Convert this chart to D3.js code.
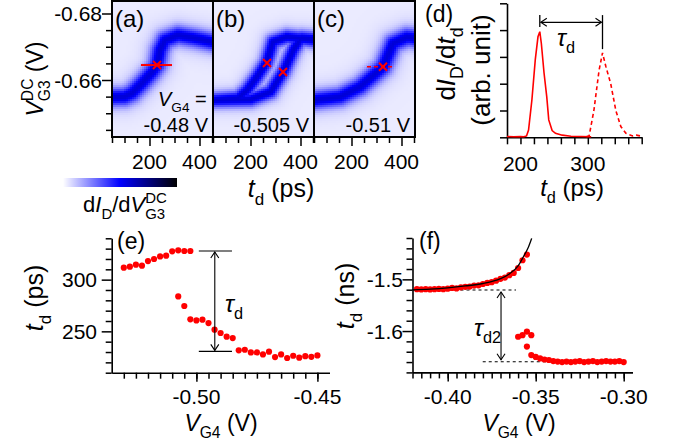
<!DOCTYPE html>
<html>
<head>
<meta charset="utf-8">
<script src="https://cdn.jsdelivr.net/npm/d3@7"></script>
<style>
  body { margin: 0; background: #fff; }
  svg { display: block; font-family: "Liberation Sans", Arial, sans-serif; }
  text { white-space: pre; }
</style>
</head>
<body>
<svg id="fig" width="678" height="445"></svg>
<script>
(function() {
  // ---- ridge of the dI/dV band (a)-(c): t_d (ps) vs V_G3 (V)
  var ridgeA_td = [50, 100, 130, 170, 210, 230, 242, 262, 314, 382, 455];
  var ridgeA_v = [-0.6549, -0.655, -0.6561, -0.6591, -0.6624, -0.6645, -0.669, -0.672, -0.6735, -0.6726, -0.6714];
  var ridgeB1_td = [50, 150, 186, 226, 264, 290, 346, 455];
  var ridgeB1_v = [-0.654, -0.6546, -0.657, -0.661, -0.6653, -0.6715, -0.673, -0.672];
  var ridgeB2_td = [50, 200, 280, 332, 372, 404, 455];
  var ridgeB2_v = [-0.654, -0.6542, -0.6565, -0.6626, -0.6692, -0.6727, -0.6723];
  var ridgeC_td = [50, 154, 234, 302, 326, 366, 422, 455];
  var ridgeC_v = [-0.654, -0.655, -0.658, -0.6624, -0.664, -0.671, -0.6729, -0.6726];

  var crossA = [[230, -0.6645]];
  var crossB = [[266, -0.6651], [330, -0.6624]];
  var crossC = [[326, -0.664]];
  var lineA = [166, 290];
  var lineC = [262, 374];
  var vG4Labels = ['-0.48 V', '-0.505 V', '-0.51 V'];

  // ---- panel (d): dI_D/dt_d traces
  var dSolidTd = [180, 190, 200, 205, 209, 212, 217, 222, 226, 228.7, 231, 235, 239, 242, 247, 252, 262, 275, 290, 305];
  var dSolidVal = [0.03, 0.02, 0.03, 0.02, 0.05, 0.27, 1.4, 2.9, 3.75, 3.94, 3.5, 2.4, 1.52, 0.65, 0.25, 0.15, 0.08, 0.04, 0.03, 0.02];
  var dDashTd = [298, 302, 309, 316.7, 321.8, 326.7, 334, 341.6, 349, 356.6, 366.5, 372, 380];
  var dDashVal = [0.02, 0.06, 1.0, 2.5, 3.15, 2.65, 2.0, 1.0, 0.4, 0.15, 0.05, 0.08, 0.04];

  // ---- panel (e): t_d (ps) vs V_G4 (V)
  var eUpperV = [-0.53, -0.5275, -0.525, -0.5225, -0.52, -0.5175, -0.515, -0.5125, -0.51, -0.5075, -0.505, -0.5025];
  var eUpperTd = [311.6, 312.6, 314.5, 313.5, 318.0, 320.0, 322.5, 323.2, 327.4, 328.4, 327.7, 327.7];
  var eLowerV = [-0.5075, -0.505, -0.5025, -0.5, -0.4975, -0.495, -0.4925, -0.49, -0.4875, -0.485, -0.4825, -0.48,
    -0.4775, -0.475, -0.4725, -0.47, -0.4675, -0.465, -0.4625, -0.46, -0.4575, -0.455, -0.4525, -0.45];
  var eLowerTd = [283.8, 274.5, 261.6, 260.6, 261.3, 258.0, 251.6, 248.4, 244.8, 243.5, 231.6, 232.2,
    229.6, 229.6, 227.7, 230.3, 225.1, 227.7, 224.2, 226.4, 224.5, 226.0, 225.4, 226.7];

  // ---- panel (f): t_d (ns) vs V_G4 (V)
  var fUpperV = [-0.4175, -0.415, -0.4125, -0.41, -0.4075, -0.405, -0.4025, -0.40, -0.3975, -0.395, -0.3925, -0.39, -0.3875,
    -0.385, -0.3825, -0.38, -0.3775, -0.375, -0.3725, -0.37, -0.3675, -0.365, -0.3625, -0.36, -0.3575, -0.355];
  var fUpperTd = [-1.519, -1.5195, -1.519, -1.5195, -1.519, -1.5185, -1.519, -1.518, -1.5165, -1.5175, -1.5155, -1.5145, -1.514,
    -1.512, -1.5115, -1.509, -1.507, -1.5055, -1.5025, -1.499, -1.4965, -1.492, -1.4875, -1.478, -1.463, -1.452];
  var fLowerV = [-0.36, -0.3575, -0.355, -0.3525, -0.355, -0.3525, -0.35, -0.3475, -0.345, -0.3425, -0.34, -0.3375,
    -0.335, -0.3325, -0.33, -0.3275, -0.325, -0.3225, -0.32, -0.3175, -0.315, -0.3125, -0.31, -0.3075, -0.305, -0.3025, -0.30];
  var fLowerTd = [-1.611, -1.608, -1.601, -1.608, -1.630, -1.6465, -1.650, -1.653, -1.655, -1.656, -1.658, -1.659,
    -1.660, -1.659, -1.660, -1.659, -1.658, -1.660, -1.659, -1.658, -1.660, -1.659, -1.658, -1.659, -1.659, -1.658, -1.660];
  var fFitV = [-0.42, -0.41, -0.40, -0.39, -0.38, -0.37, -0.365, -0.36, -0.357, -0.3545, -0.3523];
  var fFitTd = [-1.5205, -1.519, -1.5165, -1.5128, -1.508, -1.4985, -1.4895, -1.474, -1.4563, -1.4405, -1.4207];
  var fUpperLevel = -1.5207, fLowerLevel = -1.6594;

  var RED = '#ff0000';
  var svg = d3.select('#fig');
  var color = d3.scaleLinear().domain([0, 0.5, 1]).range(['#ffffff', '#0000ff', '#000000']);

  // rich text: parts = [{t, i, sub, sup, back}]
  function rich(parent, x, y, parts, size, anchor, rotate) {
    var text = parent.append('text').attr('font-size', size).attr('fill', '#000')
      .attr('text-anchor', anchor || 'start');
    if (rotate) {
      text.attr('transform', 'translate(' + x + ',' + y + ') rotate(-90)');
    } else {
      text.attr('x', x).attr('y', y);
    }
    var shift = 0, prev = null;
    parts.forEach(function(p) {
      var fs = size, target = 0;
      if (p.sub) { fs = size * 0.68; target = 0.3 * size; }
      if (p.sup) { fs = size * 0.68; target = -0.42 * size; }
      var ts = text.append('tspan').text(p.t).attr('font-size', fs);
      if (p.i) ts.attr('font-style', 'italic');
      if (target !== shift) ts.attr('dy', target - shift);
      if (p.back && prev) ts.attr('dx', -prev.node().getComputedTextLength());
      shift = target;
      prev = ts;
    });
    return text;
  }

  function axisTicks(parent, orient, scale, values, size, pos) {
    var gen = (orient === 'left' ? d3.axisLeft(scale) : d3.axisBottom(scale))
      .tickValues(values).tickSize(size).tickSizeOuter(0).tickFormat('');
    var g = parent.append('g')
      .attr('transform', orient === 'left' ? 'translate(' + pos + ',0)' : 'translate(0,' + pos + ')')
      .call(gen);
    g.selectAll('line').attr('stroke', '#000').attr('stroke-width', 1.5);
    g.select('.domain').attr('stroke', '#000').attr('stroke-width', 1.6);
    return g;
  }

  function steps(a, b, s) {
    var n = Math.round((b - a) / s), out = [], i;
    for (i = 0; i <= n; i++) out.push(+(a + i * s).toFixed(4));
    return out;
  }

  function segDist(px, py, a, b) {
    var dx = b[0] - a[0], dy = b[1] - a[1];
    var t = ((px - a[0]) * dx + (py - a[1]) * dy) / (dx * dx + dy * dy);
    t = Math.max(0, Math.min(1, t));
    var ex = a[0] + t * dx - px, ey = a[1] + t * dy - py;
    return Math.sqrt(ex * ex + ey * ey);
  }

  // ================= panels (a)-(c)
  var yTop = d3.scaleLinear().domain([-0.68, -0.66]).range([13.5, 80]);
  var topY0 = 1, topY1 = 137;
  var vMin = yTop.invert(topY0), vMax = yTop.invert(topY1);
  var topPanels = [
    { x0: 112, x1: 213, ridges: [[ridgeA_td, ridgeA_v]], sigma: 6.2, label: '(a)' },
    { x0: 213, x1: 314, ridges: [[ridgeB1_td, ridgeB1_v], [ridgeB2_td, ridgeB2_v]], sigma: 5.0, label: '(b)' },
    { x0: 314, x1: 415, ridges: [[ridgeC_td, ridgeC_v]], sigma: 6.2, label: '(c)' }
  ];
  var defs = svg.append('defs');

  topPanels.forEach(function(p, k) {
    var xs = d3.scaleLinear().domain([50, 454]).range([p.x0, p.x1]);
    var g = svg.append('g');
    defs.append('clipPath').attr('id', 'clip' + k).append('rect')
      .attr('x', p.x0).attr('y', topY0).attr('width', p.x1 - p.x0).attr('height', topY1 - topY0);
    var pix = p.ridges.map(function(r) {
      return r[0].map(function(t, i) { return [xs(t), yTop(r[1][i])]; });
    });
    var cells = [];
    var dt = 8, dv = 0.0006;
    d3.range(50, 454, dt).forEach(function(t) {
      d3.range(vMin, vMax, dv).forEach(function(v) {
        var px = xs(t + dt / 2), py = yTop(v + dv / 2), core = 0, halo = 0;
        pix.forEach(function(pts) {
          var d = Infinity, i;
          for (i = 0; i < pts.length - 1; i++) d = Math.min(d, segDist(px, py, pts[i], pts[i + 1]));
          core = Math.max(core, Math.exp(-d * d / (2 * p.sigma * p.sigma)));
          halo = Math.max(halo, Math.exp(-d * d / (2 * 4 * p.sigma * p.sigma)));
        });
        cells.push({ t: t, v: v, val: 0.04 + 0.46 * core + 0.08 * halo });
      });
    });
    g.append('g').attr('clip-path', 'url(#clip' + k + ')').selectAll('rect').data(cells).enter().append('rect')
      .attr('x', function(d) { return xs(d.t); })
      .attr('y', function(d) { return yTop(d.v); })
      .attr('width', xs(50 + dt) - xs(50) + 0.4)
      .attr('height', yTop(vMin + dv) - yTop(vMin) + 0.4)
      .attr('fill', function(d) { return color(d.val); })
      .attr('shape-rendering', 'crispEdges');

    // red marks
    if (k === 0) {
      g.append('line').attr('x1', xs(lineA[0])).attr('x2', xs(lineA[1]))
        .attr('y1', yTop(crossA[0][1])).attr('y2', yTop(crossA[0][1]))
        .attr('stroke', RED).attr('stroke-width', 2);
    }
    if (k === 2) {
      g.append('line').attr('x1', xs(lineC[0])).attr('x2', xs(lineC[1]))
        .attr('y1', yTop(crossC[0][1])).attr('y2', yTop(crossC[0][1]))
        .attr('stroke', RED).attr('stroke-width', 1.6).attr('stroke-dasharray', '4,3');
    }
    var crosses = [crossA, crossB, crossC][k];
    g.selectAll('path.cross').data(crosses).enter().append('path')
      .attr('transform', function(d) { return 'translate(' + xs(d[0]) + ',' + yTop(d[1]) + ')'; })
      .attr('d', 'M-4,-4L4,4M-4,4L4,-4').attr('stroke', RED).attr('stroke-width', 2).attr('fill', 'none');

    g.append('rect').attr('x', p.x0).attr('y', topY0).attr('width', p.x1 - p.x0).attr('height', topY1 - topY0)
      .attr('fill', 'none').attr('stroke', '#000').attr('stroke-width', 2);

    var bt = axisTicks(g, 'bottom', xs, [50, 100, 150, 250, 300, 350, 450], 6, topY1);
    bt.select('.domain').remove();
    var bm = axisTicks(g, 'bottom', xs, [200, 400], 9, topY1);
    bm.select('.domain').remove();
    g.selectAll('text.xt').data([200, 400]).enter().append('text')
      .attr('x', function(d) { return xs(d); }).attr('y', 169)
      .attr('text-anchor', 'middle').attr('font-size', 21).text(function(d) { return d; });

    g.append('text').attr('x', p.x0 + 3).attr('y', 27).attr('font-size', 24).text(p.label);
    g.append('text').attr('x', p.x1 - 5).attr('y', 132).attr('text-anchor', 'end')
      .attr('font-size', 20).text(vG4Labels[k]);
  });

  var ga = svg.append('g');
  axisTicks(ga, 'left', yTop, [-0.675, -0.67, -0.665, -0.655, -0.65, -0.645], 6, 112).select('.domain').remove();
  axisTicks(ga, 'left', yTop, [-0.68, -0.66], 10, 112).select('.domain').remove();
  ga.selectAll('text.yt').data([-0.68, -0.66]).enter().append('text')
    .attr('x', 102).attr('y', function(d) { return yTop(d); }).attr('dy', '0.36em')
    .attr('text-anchor', 'end').attr('font-size', 21).text(function(d) { return d.toFixed(2); });
  rich(ga, 158, 106, [{ t: 'V', i: true }, { t: 'G4', sub: true }, { t: ' =' }], 20);
  rich(ga, 43, 79, [{ t: 'V', i: true }, { t: 'G3', sub: true }, { t: 'DC', sup: true, back: true }, { t: ' (V)' }], 23, 'middle', true);
  rich(ga, 281, 197, [{ t: 't', i: true }, { t: 'd', sub: true }, { t: ' (ps)' }], 25, 'middle');

  // colour bar
  var grad = defs.append('linearGradient').attr('id', 'cbar');
  [[0, '#ffffff'], [0.5, '#0000ff'], [1, '#000000']].forEach(function(s) {
    grad.append('stop').attr('offset', s[0]).attr('stop-color', s[1]);
  });
  ga.append('rect').attr('x', 63).attr('y', 178).attr('width', 114).attr('height', 9).attr('fill', 'url(#cbar)');
  rich(ga, 83, 212, [{ t: 'd' }, { t: 'I', i: true }, { t: 'D', sub: true }, { t: '/d' }, { t: 'V', i: true },
    { t: 'G3', sub: true }, { t: 'DC', sup: true, back: true }], 22);

  // ================= panel (d)
  var gd = svg.append('g');
  var xd = d3.scaleLinear().domain([180, 380]).range([507, 641.7]);
  var yd = d3.scaleLinear().domain([0, 5]).range([137.3, 3.3]);
  axisTicks(gd, 'left', yd, [0, 1, 2, 3, 4, 5], 7, 507);
  axisTicks(gd, 'bottom', xd, steps(180, 380, 20), 7, 137.3);
  gd.selectAll('text.xt').data([200, 300]).enter().append('text')
    .attr('x', function(d) { return xd(d); }).attr('y', 171)
    .attr('text-anchor', 'middle').attr('font-size', 21).text(function(d) { return d; });
  var lineD = d3.line().x(function(d) { return xd(d[0]); }).y(function(d) { return yd(d[1]); });
  gd.append('path').datum(d3.zip(dSolidTd, dSolidVal)).attr('d', lineD)
    .attr('fill', 'none').attr('stroke', RED).attr('stroke-width', 1.6);
  gd.append('path').datum(d3.zip(dDashTd, dDashVal)).attr('d', lineD)
    .attr('fill', 'none').attr('stroke', RED).attr('stroke-width', 1.6).attr('stroke-dasharray', '4,3');
  // tau_d bracket
  var pkA = 228.7, pkB = 321.8;
  gd.append('line').attr('x1', xd(pkA)).attr('x2', xd(pkA)).attr('y1', yd(4.56)).attr('y2', yd(4.12))
    .attr('stroke', '#000').attr('stroke-width', 1.3);
  gd.append('line').attr('x1', xd(pkB)).attr('x2', xd(pkB)).attr('y1', yd(4.56)).attr('y2', yd(3.29))
    .attr('stroke', '#000').attr('stroke-width', 1.3);
  gd.append('line').attr('x1', xd(pkA) + 1).attr('x2', xd(pkB) - 1).attr('y1', yd(4.29)).attr('y2', yd(4.29))
    .attr('stroke', '#000').attr('stroke-width', 1.1);
  gd.append('path').attr('d', 'M' + (xd(pkA) + 7) + ',' + (yd(4.29) - 4) + 'L' + (xd(pkA) + 1) + ',' + yd(4.29) +
    'L' + (xd(pkA) + 7) + ',' + (yd(4.29) + 4))
    .attr('fill', 'none').attr('stroke', '#000').attr('stroke-width', 1.1);
  gd.append('path').attr('d', 'M' + (xd(pkB) - 7) + ',' + (yd(4.29) - 4) + 'L' + (xd(pkB) - 1) + ',' + yd(4.29) +
    'L' + (xd(pkB) - 7) + ',' + (yd(4.29) + 4))
    .attr('fill', 'none').attr('stroke', '#000').attr('stroke-width', 1.1);
  rich(gd, 557, 46, [{ t: '\u03c4', i: true }, { t: 'd', sub: true }], 24);
  gd.append('text').attr('x', 425).attr('y', 22).attr('font-size', 23).text('(d)');
  rich(gd, 455, 64, [{ t: 'd' }, { t: 'I', i: true }, { t: 'D', sub: true }, { t: '/d' }, { t: 't', i: true }, { t: 'd', sub: true }], 26, 'middle', true);
  gd.append('text').attr('transform', 'translate(490,70) rotate(-90)').attr('text-anchor', 'middle')
    .attr('font-size', 26).text('(arb. unit)');
  rich(gd, 572, 196, [{ t: 't', i: true }, { t: 'd', sub: true }, { t: ' (ps)' }], 24, 'middle');

  // ================= panel (e)
  var ge = svg.append('g');
  var xe = d3.scaleLinear().domain([-0.535, -0.445]).range([111.7, 329.5]);
  var ye = d3.scaleLinear().domain([210, 340]).range([372.7, 238.3]);
  axisTicks(ge, 'left', ye, steps(210, 340, 10).filter(function(v) { return v !== 250 && v !== 300; }), 6, 111.7);
  axisTicks(ge, 'left', ye, [250, 300], 10, 111.7).select('.domain').remove();
  axisTicks(ge, 'bottom', xe, steps(-0.53, -0.45, 0.005), 6, 372.7);
  axisTicks(ge, 'bottom', xe, [-0.5, -0.45], 9, 372.7).select('.domain').remove();
  ge.selectAll('text.yt').data([250, 300]).enter().append('text')
    .attr('x', 97).attr('y', function(d) { return ye(d); }).attr('dy', '0.36em')
    .attr('text-anchor', 'end').attr('font-size', 21).text(function(d) { return d; });
  ge.selectAll('text.xt').data([-0.5, -0.45]).enter().append('text')
    .attr('x', function(d) { return xe(d); }).attr('y', 404)
    .attr('text-anchor', 'middle').attr('font-size', 21).text(function(d) { return d.toFixed(2); });
  ge.selectAll('circle.up').data(d3.zip(eUpperV, eUpperTd)).enter().append('circle')
    .attr('cx', function(d) { return xe(d[0]); }).attr('cy', function(d) { return ye(d[1]); })
    .attr('r', 3.1).attr('fill', RED);
  ge.selectAll('circle.lo').data(d3.zip(eLowerV, eLowerTd)).enter().append('circle')
    .attr('cx', function(d) { return xe(d[0]); }).attr('cy', function(d) { return ye(d[1]); })
    .attr('r', 3.1).attr('fill', RED);
  var eTop = 327.7, eBot = 230.6, eArrowV = -0.4924;
  [eTop, eBot].forEach(function(t) {
    ge.append('line').attr('x1', xe(-0.499)).attr('x2', xe(-0.4853)).attr('y1', ye(t)).attr('y2', ye(t))
      .attr('stroke', '#000').attr('stroke-width', 1.2);
  });
  ge.append('line').attr('x1', xe(eArrowV)).attr('x2', xe(eArrowV)).attr('y1', ye(eTop) + 1).attr('y2', ye(eBot) - 1)
    .attr('stroke', '#000').attr('stroke-width', 1.1);
  ge.append('path').attr('d', 'M' + (xe(eArrowV) - 4) + ',' + (ye(eTop) + 7) + 'L' + xe(eArrowV) + ',' + (ye(eTop) + 1) +
    'L' + (xe(eArrowV) + 4) + ',' + (ye(eTop) + 7) + 'M' + (xe(eArrowV) - 4) + ',' + (ye(eBot) - 7) +
    'L' + xe(eArrowV) + ',' + (ye(eBot) - 1) + 'L' + (xe(eArrowV) + 4) + ',' + (ye(eBot) - 7))
    .attr('fill', 'none').attr('stroke', '#000').attr('stroke-width', 1.1);
  rich(ge, 225, 312, [{ t: '\u03c4', i: true }, { t: 'd', sub: true }], 24);
  ge.append('text').attr('x', 117).attr('y', 249).attr('font-size', 23).text('(e)');
  rich(ge, 43, 298, [{ t: 't', i: true }, { t: 'd', sub: true }, { t: ' (ps)' }], 25, 'middle', true);
  rich(ge, 221, 431, [{ t: 'V', i: true }, { t: 'G4', sub: true }, { t: ' (V)' }], 23, 'middle');

  // ================= panel (f)
  var gf = svg.append('g');
  var xf = d3.scaleLinear().domain([-0.42, -0.295]).range([412.5, 632.5]);
  var yf = d3.scaleLinear().domain([-1.68, -1.42]).range([372.4, 238.0]);
  axisTicks(gf, 'left', yf, steps(-1.68, -1.42, 0.02).filter(function(v) { return v !== -1.5 && v !== -1.6; }), 6, 412.5);
  axisTicks(gf, 'left', yf, [-1.6, -1.5], 10, 412.5).select('.domain').remove();
  axisTicks(gf, 'bottom', xf, steps(-0.42, -0.30, 0.005), 6, 372.4);
  axisTicks(gf, 'bottom', xf, [-0.4, -0.35, -0.3], 9, 372.4).select('.domain').remove();
  gf.selectAll('text.yt').data([-1.5, -1.6]).enter().append('text')
    .attr('x', 403).attr('y', function(d) { return yf(d); }).attr('dy', '0.36em')
    .attr('text-anchor', 'end').attr('font-size', 21).text(function(d) { return d.toFixed(1); });
  gf.selectAll('text.xt').data([-0.4, -0.35, -0.3]).enter().append('text')
    .attr('x', function(d) { return xf(d); }).attr('y', 404)
    .attr('text-anchor', 'middle').attr('font-size', 21).text(function(d) { return d.toFixed(2); });
  gf.append('line').attr('x1', xf(-0.42)).attr('x2', xf(-0.3612)).attr('y1', yf(fUpperLevel)).attr('y2', yf(fUpperLevel))
    .attr('stroke', '#000').attr('stroke-width', 1.1).attr('stroke-dasharray', '3,3');
  gf.append('line').attr('x1', xf(-0.3801)).attr('x2', xf(-0.2987)).attr('y1', yf(fLowerLevel)).attr('y2', yf(fLowerLevel))
    .attr('stroke', '#000').attr('stroke-width', 1.1).attr('stroke-dasharray', '3,3');
  gf.selectAll('circle.up').data(d3.zip(fUpperV, fUpperTd)).enter().append('circle')
    .attr('cx', function(d) { return xf(d[0]); }).attr('cy', function(d) { return yf(d[1]); })
    .attr('r', 3.1).attr('fill', RED);
  gf.selectAll('circle.lo').data(d3.zip(fLowerV, fLowerTd)).enter().append('circle')
    .attr('cx', function(d) { return xf(d[0]); }).attr('cy', function(d) { return yf(d[1]); })
    .attr('r', 3.1).attr('fill', RED);
  var lineF = d3.line().curve(d3.curveMonotoneX).x(function(d) { return xf(d[0]); }).y(function(d) { return yf(d[1]); });
  gf.append('path').datum(d3.zip(fFitV, fFitTd)).attr('d', lineF)
    .attr('fill', 'none').attr('stroke', '#000').attr('stroke-width', 1.3);
  var fArrowV = -0.3697;
  var fa = xf(fArrowV), fyT = yf(fUpperLevel), fyB = yf(fLowerLevel);
  gf.append('line').attr('x1', fa).attr('x2', fa).attr('y1', fyT + 2).attr('y2', fyB - 2)
    .attr('stroke', '#000').attr('stroke-width', 1.1);
  gf.append('path').attr('d', 'M' + (fa - 4) + ',' + (fyT + 8) + 'L' + fa + ',' + (fyT + 2) + 'L' + (fa + 4) + ',' + (fyT + 8) +
    'M' + (fa - 4) + ',' + (fyB - 8) + 'L' + fa + ',' + (fyB - 2) + 'L' + (fa + 4) + ',' + (fyB - 8))
    .attr('fill', 'none').attr('stroke', '#000').attr('stroke-width', 1.1);
  rich(gf, 474, 336, [{ t: '\u03c4', i: true }, { t: 'd2', sub: true }], 24);
  gf.append('text').attr('x', 419).attr('y', 249).attr('font-size', 23).text('(f)');
  rich(gf, 354, 296, [{ t: 't', i: true }, { t: 'd', sub: true }, { t: ' (ns)' }], 25, 'middle', true);
  rich(gf, 519, 431, [{ t: 'V', i: true }, { t: 'G4', sub: true }, { t: ' (V)' }], 23, 'middle');
}).call(this);
</script>
</body>
</html>
